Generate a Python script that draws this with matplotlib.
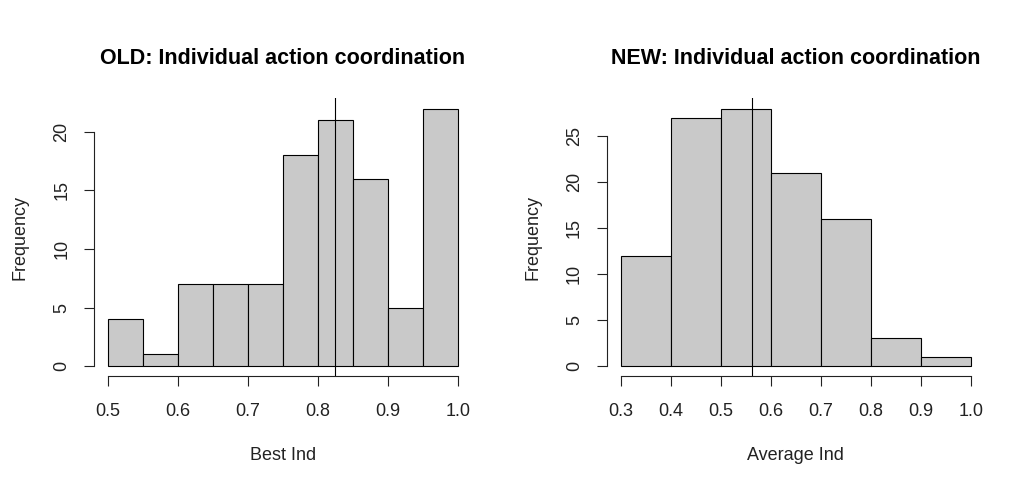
import numpy as np
import matplotlib
matplotlib.use("Agg")
from matplotlib import pyplot as plt

plt.rcParams['font.family'] = ['Liberation Sans', 'DejaVu Sans']

# OLD panel: bins of 0.05 from 0.5 to 1.0
old_edges = [0.5, 0.55, 0.6, 0.65, 0.7, 0.75, 0.8, 0.85, 0.9, 0.95, 1.0]
old_counts = [4, 1, 7, 7, 7, 18, 21, 16, 5, 22]
old_line = 0.824
old_yticks = [0, 5, 10, 15, 20]
old_xticks = [0.5, 0.6, 0.7, 0.8, 0.9, 1.0]

# NEW panel: bins of 0.1 from 0.3 to 1.0
new_edges = [0.3, 0.4, 0.5, 0.6, 0.7, 0.8, 0.9, 1.0]
new_counts = [12, 27, 28, 21, 16, 3, 1]
new_line = 0.562
new_yticks = [0, 5, 10, 15, 20, 25]
new_xticks = [0.3, 0.4, 0.5, 0.6, 0.7, 0.8, 0.9, 1.0]

W, H = 1017, 479
fig = plt.figure(figsize=(W / 100, H / 100), dpi=100)

bar_col = '#C9C9C9'
lw = 0.8


def rhist(ax, edges, counts, vline, xticks, yticks, title, xlabel):
    edges = np.array(edges)
    widths = np.diff(edges)
    ax.bar(edges[:-1], counts, width=widths, align='edge',
           color=bar_col, edgecolor='black', linewidth=lw)
    # R style 4% padding of usr region
    xr = edges[-1] - edges[0]
    ymax = max(counts)
    ax.set_xlim(edges[0] - 0.04 * xr, edges[-1] + 0.04 * xr)
    ax.set_ylim(-0.04 * ymax, ymax * 1.04)
    ax.axvline(vline, color='black', linewidth=lw)

    for s in ['top', 'right']:
        ax.spines[s].set_visible(False)
    ax.spines['left'].set_bounds(yticks[0], yticks[-1])
    ax.spines['bottom'].set_bounds(xticks[0], xticks[-1])
    for s in ['left', 'bottom']:
        ax.spines[s].set_linewidth(lw)
        ax.spines[s].set_color('#222222')

    ax.set_xticks(xticks)
    ax.set_xticklabels(['%.1f' % v for v in xticks])
    ax.set_yticks(yticks)
    ax.set_yticklabels([str(v) for v in yticks], rotation=90, va='center')
    ax.tick_params(length=7.5, width=lw, labelsize=13, color='#222222',
                   labelcolor='#222222')
    ax.tick_params(axis='x', pad=12)
    ax.tick_params(axis='y', pad=9.5)

    ax.set_title(title, fontsize=15.5, fontweight='bold', pad=24.5)
    ax.set_xlabel(xlabel, fontsize=13, labelpad=19, color='#222222')
    ax.set_ylabel('Frequency', fontsize=13, labelpad=18, color='#222222')


ax1 = fig.add_axes([94 / W, (H - 376.3) / H, 378 / W, 278 / H])
rhist(ax1, old_edges, old_counts, old_line, old_xticks, old_yticks,
      'OLD: Individual action coordination', 'Best Ind')

ax2 = fig.add_axes([606.7 / W, (H - 376.3) / H, 378 / W, 278 / H])
rhist(ax2, new_edges, new_counts, new_line, new_xticks, new_yticks,
      'NEW: Individual action coordination', 'Average Ind')

fig.savefig('out.png', dpi=100, facecolor='white')
